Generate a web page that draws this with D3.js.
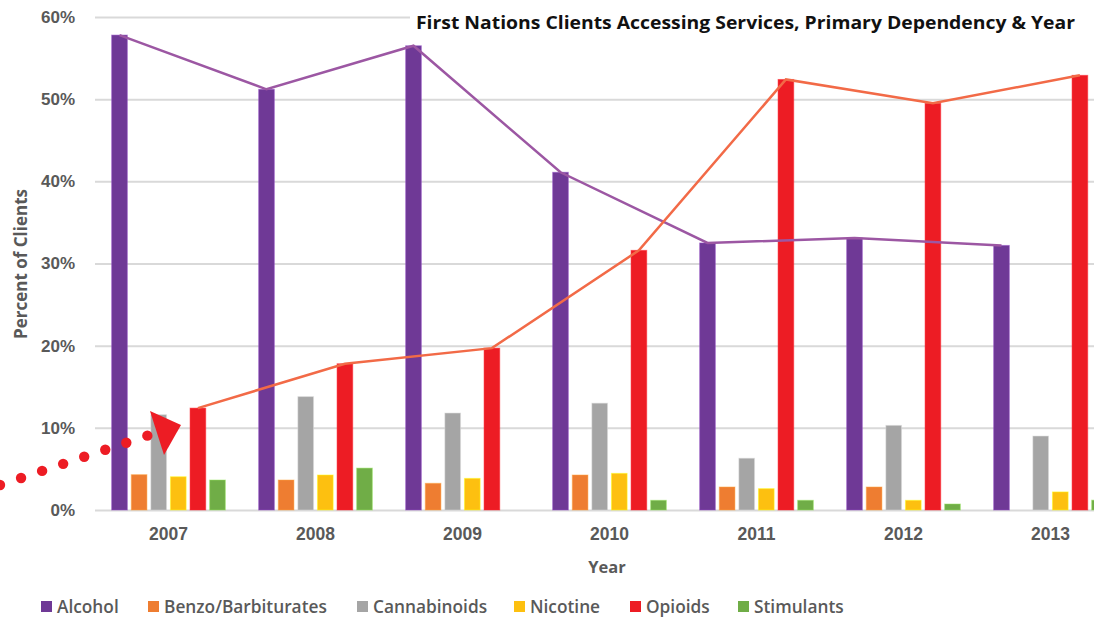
<!DOCTYPE html>
<html>
<head>
<meta charset="utf-8">
<script src="https://cdn.jsdelivr.net/npm/d3@7"></script>
<style>
  html, body { margin: 0; padding: 0; background: #fff; }
  svg { display: block; font-family: "Open Sans", "DejaVu Sans", sans-serif; }
</style>
</head>
<body>
<svg id="chart" width="1094" height="619"></svg>
<script>
// Share of First Nations clients by primary dependency, per year (%)
const years = ["2007", "2008", "2009", "2010", "2011", "2012", "2013"];
const seriesNames = ["Alcohol", "Benzo/Barbiturates", "Cannabinoids", "Nicotine", "Opioids", "Stimulants"];
const alcohol      = [57.8, 51.2, 56.5, 41.1, 32.5, 33.1, 32.2];
const benzo        = [4.3, 3.65, 3.25, 4.26, 2.8, 2.8, 0];
const cannabinoids = [11.6, 13.8, 11.8, 13.0, 6.3, 10.3, 9.0];
const nicotine     = [4.05, 4.26, 3.85, 4.46, 2.6, 1.18, 2.2];
const opioids      = [12.4, 17.8, 19.7, 31.6, 52.4, 49.5, 52.9];
const stimulants   = [3.65, 5.1, 0, 1.18, 1.18, 0.73, 1.2];
const yTicks = [0, 10, 20, 30, 40, 50, 60];
const colors = ["#6f3996", "#ee7d31", "#a5a5a5", "#fdc010", "#ed1c24", "#70ad47"];

const seriesValues = [alcohol, benzo, cannabinoids, nicotine, opioids, stimulants];

const svg = d3.select("#chart");
const plotLeft = 95, plotRight = 1124, plotTop = 17, plotBottom = 510;

const x0 = d3.scaleBand().domain(years).range([plotLeft, plotRight]).paddingInner(0.2).paddingOuter(0.1);
const x1 = d3.scaleBand().domain(seriesNames).range([0, x0.bandwidth()]).paddingInner(0.2).paddingOuter(0.1);
const y = d3.scaleLinear().domain([0, 60]).range([plotBottom, plotTop]);
const color = d3.scaleOrdinal().domain(seriesNames).range(colors);

// gridlines and y tick labels
const yAxis = svg.append("g")
  .attr("transform", `translate(${plotLeft},0)`)
  .call(d3.axisLeft(y).tickValues(yTicks).tickFormat(d => d + "%")
    .tickSize(-(plotRight - plotLeft)).tickPadding(20));
yAxis.select(".domain").remove();
yAxis.selectAll(".tick line").attr("stroke", "#d9d9d9").attr("stroke-width", 2);
yAxis.selectAll(".tick text")
  .attr("fill", "#595959").attr("font-size", 17).attr("font-weight", 700);

// x axis labels
const xAxis = svg.append("g")
  .attr("transform", `translate(0,${plotBottom})`)
  .call(d3.axisBottom(x0).tickSize(0).tickPadding(18));
xAxis.select(".domain").remove();
xAxis.selectAll(".tick text")
  .attr("fill", "#595959").attr("font-size", 17.5).attr("font-weight", 700);

// bars
const rows = years.map((yr, i) => ({ year: yr, values: seriesNames.map((s, k) => ({ key: s, value: seriesValues[k][i] })) }));
svg.append("g").selectAll("g").data(rows).join("g")
  .attr("transform", d => `translate(${x0(d.year)},0)`)
  .selectAll("rect").data(d => d.values.filter(v => v.value > 0)).join("rect")
  .attr("x", d => x1(d.key))
  .attr("width", x1.bandwidth())
  .attr("y", d => y(d.value))
  .attr("height", d => y(0) - y(d.value))
  .attr("fill", d => color(d.key))
  .attr("stroke", d => d3.color(color(d.key)).brighter(0.8))
  .attr("stroke-opacity", 0.5)
  .attr("stroke-width", 1);

// trend lines over alcohol and opioid bars
const trend = (vals, key) => d3.line()
  .x((d, i) => x0(years[i]) + x1(key) + x1.bandwidth() / 2)
  .y(d => y(d))(vals);
svg.append("path").attr("d", trend(alcohol, "Alcohol"))
  .attr("fill", "none").attr("stroke", "#9c57a3").attr("stroke-width", 2.5);
svg.append("path").attr("d", trend(opioids, "Opioids"))
  .attr("fill", "none").attr("stroke", "#f26a47").attr("stroke-width", 2.5);

// title with white backing
svg.append("rect").attr("x", 410).attr("y", 4).attr("width", 684).attr("height", 32).attr("fill", "#fff");
svg.append("text")
  .attr("x", 1075).attr("y", 29).attr("text-anchor", "end")
  .attr("font-size", 18.5).attr("font-weight", 700).attr("fill", "#111")
  .attr("textLength", 659).attr("lengthAdjust", "spacingAndGlyphs")
  .text("First Nations Clients Accessing Services, Primary Dependency & Year");

// axis titles
svg.append("text")
  .attr("transform", "translate(27,264) rotate(-90)")
  .attr("text-anchor", "middle")
  .attr("font-size", 17).attr("font-weight", 700).attr("fill", "#595959")
  .text("Percent of Clients");
svg.append("text")
  .attr("x", 607).attr("y", 573).attr("text-anchor", "middle")
  .attr("font-size", 16.5).attr("font-weight", 700).attr("fill", "#595959")
  .text("Year");

// legend
const legendX = [41, 148, 357, 514, 630, 738];
const legend = svg.append("g").selectAll("g").data(seriesNames).join("g")
  .attr("transform", (d, i) => `translate(${legendX[i]},601)`);
legend.append("rect").attr("width", 11).attr("height", 11).attr("fill", d => color(d));
legend.append("text").attr("x", 16).attr("y", 12)
  .attr("font-size", 17.3).attr("font-weight", 600).attr("fill", "#595959")
  .text(d => d);

// dotted arrow annotation
const ann = svg.append("g").attr("fill", "#ed1c24");
d3.range(8).forEach(i => {
  ann.append("circle").attr("cx", 0 + i * 21.05).attr("cy", 485 - i * 7.05).attr("r", 5.2);
});
ann.append("path").attr("d", "M150,411 L181,425 L164,455 Z");
</script>
</body>
</html>
